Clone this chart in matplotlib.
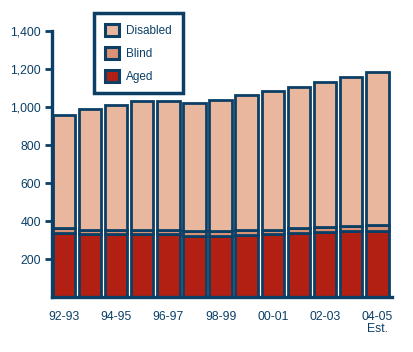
import matplotlib
matplotlib.use("Agg")
import matplotlib.pyplot as plt
from matplotlib.ticker import FuncFormatter
import numpy as np

years = ["92-93", "93-94", "94-95", "95-96", "96-97", "97-98", "98-99",
         "99-00", "00-01", "01-02", "02-03", "03-04", "04-05\nEst."]
aged = [336, 329, 331, 331, 331, 320, 320, 328, 331, 336, 340, 346, 350]
blind = [26, 25, 23, 23, 23, 25, 25, 26, 24, 26, 28, 27, 29]
totals = [959, 989, 1012, 1031, 1031, 1019, 1037, 1065, 1084, 1105, 1132, 1159, 1184]
disabled = [t - a - b for t, a, b in zip(totals, aged, blind)]
shown_labels = [y if i % 2 == 0 else "" for i, y in enumerate(years)]
yticks = [200, 400, 600, 800, 1000, 1200, 1400]

navy = "#0b3f66"
c_aged = "#b22014"
c_blind = "#d99274"
c_dis = "#e8b79d"

plt.rcParams['font.family'] = ['Liberation Sans', 'DejaVu Sans']

fig = plt.figure(figsize=(4.14, 3.52), dpi=100)
ax = fig.add_axes([52/414, 1-297/352, 340/414, 266/352])

x = np.arange(len(years))
w = 0.86
lw = 2.0
b1 = ax.bar(x, aged, width=w, color=c_aged, edgecolor=navy, linewidth=lw, label="Aged")
b2 = ax.bar(x, blind, width=w, bottom=aged, color=c_blind, edgecolor=navy, linewidth=lw, label="Blind")
bottom2 = [a + b for a, b in zip(aged, blind)]
b3 = ax.bar(x, disabled, width=w, bottom=bottom2, color=c_dis, edgecolor=navy, linewidth=lw, label="Disabled")

ax.set_xlim(-0.45, 12.56)
ax.set_ylim(0, 1400)
ax.set_yticks(yticks)
ax.yaxis.set_major_formatter(FuncFormatter(lambda v, p: f"{int(v):,}"))
ax.set_xticks(x)
ax.set_xticklabels(shown_labels, fontsize=8.8, color=navy, linespacing=1.0)
ax.tick_params(axis='x', length=0, pad=10)
ax.tick_params(axis='y', length=5, width=2, color=navy, labelcolor=navy, labelsize=8.8, pad=3)

for s in ['top', 'right']:
    ax.spines[s].set_visible(False)
for s in ['left', 'bottom']:
    ax.spines[s].set_color(navy)
    ax.spines[s].set_linewidth(2.4)

leg = fig.legend(handles=[b3, b2, b1], labels=["Disabled", "Blind", "Aged"],
                 loc='upper left', bbox_to_anchor=(94/414, 1-13/352),
                 frameon=True, fancybox=False, framealpha=1, fontsize=8.5,
                 handlelength=1.2, handleheight=1.2, handletextpad=0.65,
                 labelspacing=0.85, borderpad=0.9, borderaxespad=0)
leg.get_frame().set_edgecolor(navy)
leg.get_frame().set_linewidth(2.5)
for t in leg.get_texts():
    t.set_color(navy)
for p in leg.get_patches():
    p.set_linewidth(2.2)

fig.savefig("out.png", dpi=100)
